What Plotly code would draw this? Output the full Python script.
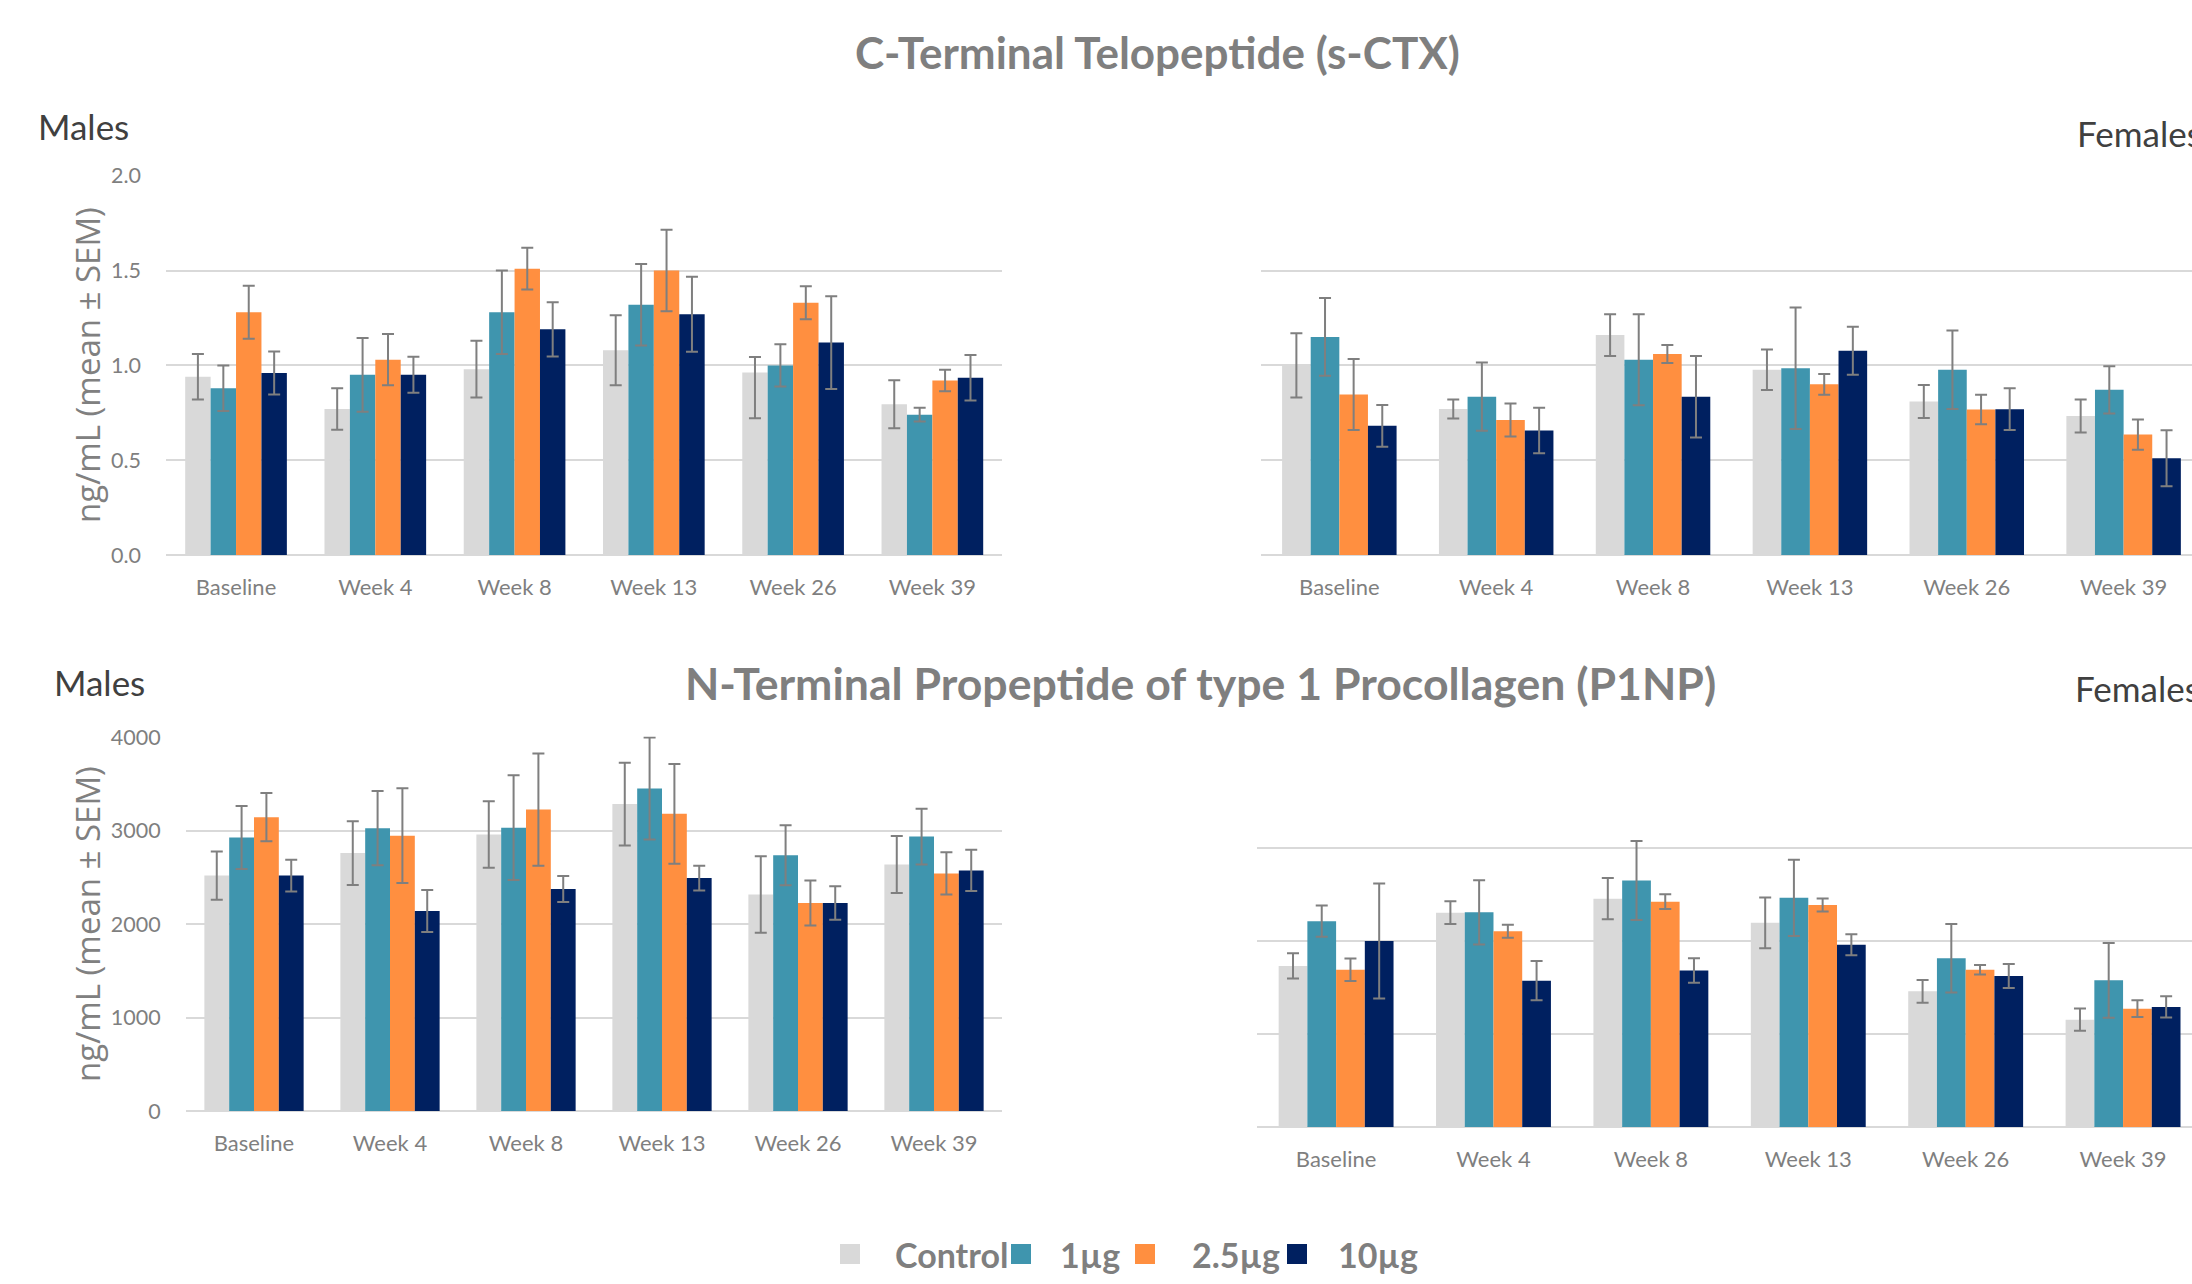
import plotly.graph_objects as go

# ---- data -------------------------------------------------------------
timepoints = ["Baseline", "Week 4", "Week 8", "Week 13", "Week 26", "Week 39"]
doses = ["Control", "1µg", "2.5µg", "10µg"]
dose_colors = ["#D9D9D9", "#3F95AE", "#FF8F40", "#002060"]

# s-CTX, males (ng/mL)
ctx_m_control = [0.94, 0.77, 0.98, 1.08, 0.963, 0.795]
ctx_m_1ug = [0.88, 0.95, 1.28, 1.32, 1.00, 0.74]
ctx_m_25ug = [1.28, 1.03, 1.51, 1.50, 1.33, 0.92]
ctx_m_10ug = [0.96, 0.95, 1.19, 1.27, 1.12, 0.935]
ctx_m_control_sem = [0.12, 0.11, 0.15, 0.185, 0.081, 0.126]
ctx_m_control_sem_lo = [0.12, 0.11, 0.15, 0.185, 0.242, 0.126]
ctx_m_1ug_sem = [0.12, 0.195, 0.22, 0.215, 0.112, 0.036]
ctx_m_25ug_sem = [0.14, 0.135, 0.11, 0.215, 0.087, 0.057]
ctx_m_10ug_sem = [0.113, 0.095, 0.143, 0.198, 0.244, 0.12]

# s-CTX, females (ng/mL)
ctx_f_control = [1.00, 0.77, 1.16, 0.977, 0.81, 0.733]
ctx_f_1ug = [1.15, 0.835, 1.03, 0.985, 0.977, 0.871]
ctx_f_25ug = [0.846, 0.712, 1.06, 0.90, 0.767, 0.635]
ctx_f_10ug = [0.681, 0.656, 0.835, 1.077, 0.769, 0.51]
ctx_f_control_sem = [0.17, 0.05, 0.11, 0.107, 0.087, 0.087]
ctx_f_1ug_sem = [0.205, 0.18, 0.24, 0.32, 0.207, 0.125]
ctx_f_25ug_sem = [0.187, 0.087, 0.047, 0.055, 0.078, 0.08]
ctx_f_10ug_sem = [0.11, 0.12, 0.215, 0.127, 0.11, 0.148]

# P1NP, males (ng/mL)
p1np_m_control = [2520, 2760, 2959, 3285, 2317, 2638]
p1np_m_1ug = [2928, 3027, 3032, 3452, 2738, 2937]
p1np_m_25ug = [3145, 2946, 3226, 3181, 2226, 2543]
p1np_m_10ug = [2520, 2140, 2376, 2493, 2226, 2575]
p1np_m_control_sem = [258, 342, 357, 443, 410, 305]
p1np_m_1ug_sem = [337, 398, 561, 545, 321, 298]
p1np_m_25ug_sem = [258, 507, 600, 534, 242, 226]
p1np_m_10ug_sem = [170, 224, 138, 133, 178, 221]

# P1NP, females (ng/mL)
p1np_f_control = [1730, 2302, 2452, 2193, 1457, 1153]
p1np_f_1ug = [2211, 2306, 2647, 2461, 1812, 1575]
p1np_f_25ug = [1689, 2102, 2420, 2384, 1689, 1271]
p1np_f_10ug = [1998, 1571, 1680, 1957, 1621, 1289]
p1np_f_control_sem = [136, 123, 222, 272, 123, 120]
p1np_f_1ug_sem = [168, 345, 425, 410, 368, 402]
p1np_f_25ug_sem = [120, 70, 80, 70, 52, 89]
p1np_f_10ug_sem = [618, 211, 131, 113, 129, 114]

ctx_tick_vals = [0, 0.5, 1.0, 1.5, 2.0]
ctx_tick_text = ["0.0", "0.5", "1.0", "1.5", "2.0"]
p1np_tick_vals = [0, 1000, 2000, 3000, 4000]
p1np_tick_text = ["0", "1000", "2000", "3000", "4000"]

# ---- layout constants -------------------------------------------------
W, H = 2192, 1284
GRID = "#D9D9D9"
TICK_GREY = "#7F7F7F"
ERR_GREY = "#7F7F7F"
DARK = "#404040"
TEXT_FONT = "Lato, 'Open Sans', sans-serif"
AXIS_TITLE_FONT = "'Open Sans', 'DejaVu Sans', sans-serif"


def px_x(p):
    return p / W


def px_y(p):
    return 1 - p / H


panels = [
    # (axis suffix, means, sems, lower sems)
    ("", [ctx_m_control, ctx_m_1ug, ctx_m_25ug, ctx_m_10ug],
     [ctx_m_control_sem, ctx_m_1ug_sem, ctx_m_25ug_sem, ctx_m_10ug_sem],
     [ctx_m_control_sem_lo, ctx_m_1ug_sem, ctx_m_25ug_sem, ctx_m_10ug_sem]),
    ("2", [ctx_f_control, ctx_f_1ug, ctx_f_25ug, ctx_f_10ug],
     [ctx_f_control_sem, ctx_f_1ug_sem, ctx_f_25ug_sem, ctx_f_10ug_sem], None),
    ("3", [p1np_m_control, p1np_m_1ug, p1np_m_25ug, p1np_m_10ug],
     [p1np_m_control_sem, p1np_m_1ug_sem, p1np_m_25ug_sem, p1np_m_10ug_sem], None),
    ("4", [p1np_f_control, p1np_f_1ug, p1np_f_25ug, p1np_f_10ug],
     [p1np_f_control_sem, p1np_f_1ug_sem, p1np_f_25ug_sem, p1np_f_10ug_sem], None),
]

fig = go.Figure()
for suffix, means, sems, sems_lo in panels:
    for i, dose in enumerate(doses):
        err = dict(type="data", array=sems[i], visible=True,
                   color=ERR_GREY, thickness=2, width=6)
        if sems_lo is not None:
            err["symmetric"] = False
            err["arrayminus"] = sems_lo[i]
        fig.add_trace(go.Bar(
            x=timepoints, y=means[i], name=dose,
            marker=dict(color=dose_colors[i], line=dict(width=0)),
            error_y=err, showlegend=False,
            xaxis="x" + suffix, yaxis="y" + suffix,
        ))

x_tick_font = dict(family=TEXT_FONT, size=22, color=TICK_GREY)
y_tick_font = dict(family=TEXT_FONT, size=21.5, color=TICK_GREY)


def xaxis(domain, anchor, rng):
    return dict(domain=domain, anchor=anchor, type="category",
                range=rng, showgrid=False, showline=False, zeroline=False,
                ticks="outside", ticklen=13, tickcolor="rgba(0,0,0,0)",
                tickfont=x_tick_font, fixedrange=True, automargin=False)


def yaxis(domain, anchor, rng, vals, text, show_labels):
    return dict(domain=domain, anchor=anchor, range=rng,
                tickvals=vals, ticktext=text, showticklabels=show_labels,
                showgrid=True, gridcolor=GRID, gridwidth=2,
                zeroline=True, zerolinecolor=GRID, zerolinewidth=2,
                showline=False, ticks="outside", ticklen=20,
                tickcolor="rgba(0,0,0,0)", tickfont=y_tick_font,
                fixedrange=True, automargin=False)


top_y = [px_y(555), px_y(175)]
bl_y = [px_y(1111), px_y(736.5)]
br_y = [px_y(1127), px_y(753.8)]

# tiny headroom so the top gridline is still drawn
ctx_range = [0, 2.004]
p1np_range = [0, 4008]

fig.update_layout(
    width=W, height=H,
    margin=dict(l=0, r=0, t=0, b=0, pad=0, autoexpand=False),
    paper_bgcolor="white", plot_bgcolor="white",
    barmode="group", bargap=0.27, bargroupgap=0,
    showlegend=False,
    xaxis=xaxis([px_x(166.4), px_x(1002)], "y", [-0.5, 5.5]),
    yaxis=yaxis(top_y, "x", ctx_range, ctx_tick_vals, ctx_tick_text, True),
    xaxis2=xaxis([px_x(1260.9), 1.0], "y2", [-0.5, 5.436]),
    yaxis2=yaxis(top_y, "x2", ctx_range, ctx_tick_vals, ctx_tick_text, False),
    xaxis3=xaxis([px_x(186), px_x(1002)], "y3", [-0.5, 5.5]),
    yaxis3=yaxis(bl_y, "x3", p1np_range, p1np_tick_vals, p1np_tick_text, True),
    xaxis4=xaxis([px_x(1257.4), 1.0], "y4", [-0.5, 5.438]),
    yaxis4=yaxis(br_y, "x4", p1np_range, p1np_tick_vals, p1np_tick_text, False),
)

annotations = []


def add_text(text, x, y, size, color, family=TEXT_FONT, bold=False,
             xanchor="left", angle=0):
    annotations.append(dict(
        text=f"<b>{text}</b>" if bold else text,
        x=px_x(x), y=px_y(y), xref="paper", yref="paper",
        xanchor=xanchor, yanchor="middle", showarrow=False, textangle=angle,
        font=dict(family=family, size=size, color=color),
    ))


# panel titles
add_text("C-Terminal Telopeptide (s-CTX)", 1157, 52, 44, "#7F7F7F",
         bold=True, xanchor="center")
add_text("N-Terminal Propeptide of type 1 Procollagen (P1NP)", 1200, 682, 44.6,
         "#7F7F7F", bold=True, xanchor="center")

# sex labels
add_text("Males", 36, 126, 35, DARK)
add_text("Females", 2075, 133, 35, DARK)
add_text("Males", 52, 682, 35, DARK)
add_text("Females", 2073, 688, 35, DARK)

# y-axis titles
add_text("ng/mL (mean ± SEM)", 87, 365, 33, "#808080",
         family=AXIS_TITLE_FONT, xanchor="center", angle=-90)
add_text("ng/mL (mean ± SEM)", 87, 924, 33, "#808080",
         family=AXIS_TITLE_FONT, xanchor="center", angle=-90)

# shared legend: colour swatches followed by dose names
legend_swatch_x = [840, 1011, 1135, 1287]
legend_text_x = [893, 1058, 1190, 1336]
shapes = []
for i, dose in enumerate(doses):
    x0 = legend_swatch_x[i]
    shapes.append(dict(type="rect", xref="paper", yref="paper",
                       x0=px_x(x0), x1=px_x(x0 + 20),
                       y0=px_y(1264), y1=px_y(1244),
                       fillcolor=dose_colors[i], line=dict(width=0)))
    add_text(dose, legend_text_x[i], 1254, 34, "#7F7F7F", bold=True)

fig.update_layout(annotations=annotations, shapes=shapes)

fig.write_html("out.html")
